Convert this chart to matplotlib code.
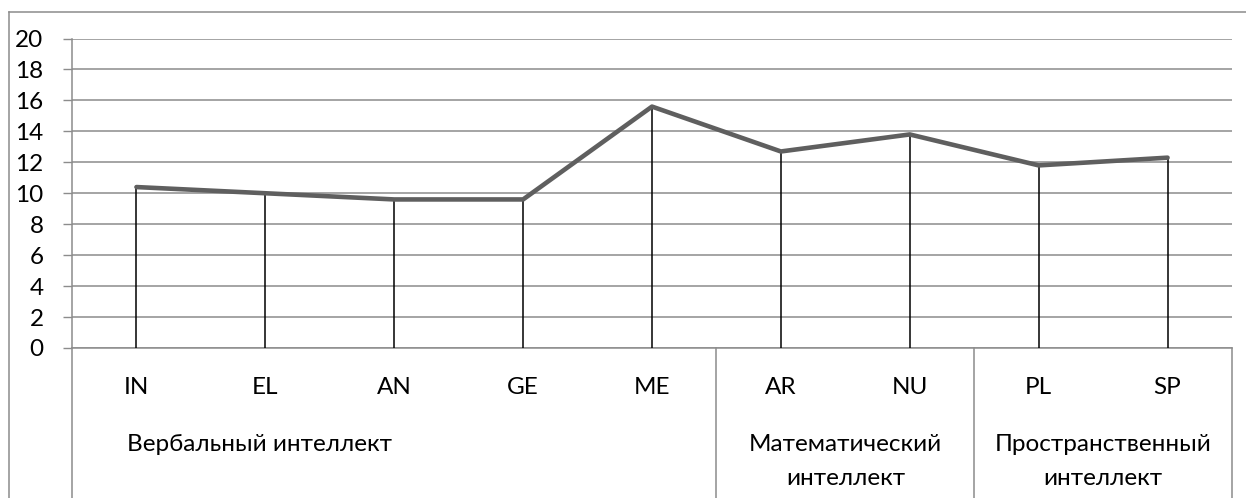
import matplotlib
matplotlib.use("Agg")
import matplotlib.pyplot as plt
from matplotlib.lines import Line2D
from matplotlib.transforms import blended_transform_factory

plt.rcParams['font.family'] = ['Lato', 'DejaVu Sans']

# data
categories = ['IN', 'EL', 'AN', 'GE', 'ME', 'AR', 'NU', 'PL', 'SP']
values = [10.4, 10.0, 9.6, 9.6, 15.6, 12.7, 13.8, 11.8, 12.3]
groups = [['Вербальный интеллект'], ['Математический', 'интеллект'], ['Пространственный', 'интеллект']]
group_sizes = [5, 2, 2]
yticks = list(range(0, 21, 2))

grid_c = '#8c8c8c'
fs = 17.5
fig = plt.figure(figsize=(12.46, 4.98), dpi=100)
ax = fig.add_axes([72 / 1246, 150 / 498, 1160 / 1246, 309.5 / 498])

x = list(range(len(categories)))
# drop lines from axis to each point
ax.vlines(x, 0, values, color='black', linewidth=1.1, zorder=3)
ax.plot(x, values, color='#5f5f5f', linewidth=3.3, solid_capstyle='round', zorder=4)

ax.set_xlim(-0.5, len(categories) - 0.5)
ax.set_ylim(0, 20)
ax.set_yticks(yticks)
ax.set_yticklabels([str(t) for t in yticks], fontsize=fs)
ax.yaxis.grid(True, color=grid_c, linewidth=1.1)
ax.set_axisbelow(True)
ax.tick_params(axis='y', length=6.5, width=1.0, color=grid_c, pad=14)
ax.set_xticks([])
for s in ['top', 'right']:
    ax.spines[s].set_visible(False)
for s in ['left', 'bottom']:
    ax.spines[s].set_color(grid_c)
    ax.spines[s].set_linewidth(1.1)

# multi-level category axis below the plot
tr = blended_transform_factory(ax.transData, fig.transFigure)
y_cat = (498 - 394) / 498
y_line = [(498 - 451) / 498, (498 - 485) / 498]
for i, c in enumerate(categories):
    fig.text(i, y_cat, c, transform=tr, ha='center', va='baseline', fontsize=fs)

edges = [-0.5]
for n in group_sizes:
    edges.append(edges[-1] + n)
for e in edges:
    fig.add_artist(Line2D([e, e], [0, 150 / 498], transform=tr, color=grid_c, linewidth=1.1))
for gi, g in enumerate(groups):
    for li, line in enumerate(g):
        if gi == 0:
            fig.text(-0.07, y_line[li], line, transform=tr, ha='left', va='baseline', fontsize=fs)
        else:
            mid = (edges[gi] + edges[gi + 1]) / 2
            fig.text(mid, y_line[li], line, transform=tr, ha='center', va='baseline', fontsize=fs)

# outer chart border
fig.add_artist(Line2D([8.5 / 1246, 8.5 / 1246], [0, 486 / 498], color=grid_c, linewidth=1.1))
fig.add_artist(Line2D([8.5 / 1246, 1], [486 / 498, 486 / 498], color=grid_c, linewidth=1.1))

fig.savefig('out.png', dpi=100)
